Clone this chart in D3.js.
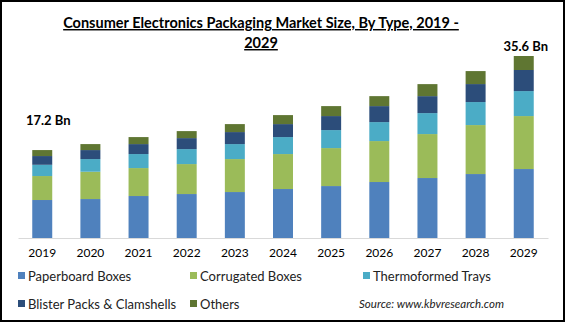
<!DOCTYPE html>
<html>
<head>
<meta charset="utf-8">
<script src="https://cdn.jsdelivr.net/npm/d3@7"></script>
<style>
  body { margin: 0; background: #fff; }
  svg { display: block; font-family: Lato, "Open Sans", sans-serif; }
</style>
</head>
<body>
<svg id="chart"></svg>
<script>
const years = ['2019', '2020', '2021', '2022', '2023', '2024', '2025', '2026', '2027', '2028', '2029'];
const seriesNames = ['Paperboard Boxes', 'Corrugated Boxes', 'Thermoformed Trays', 'Blister Packs & Clamshells', 'Others'];
const paperboard = [7.43, 7.62, 8.21, 8.60, 8.99, 9.58, 10.16, 10.95, 11.73, 12.51, 13.49];
const corrugated = [4.69, 5.34, 5.47, 5.86, 6.45, 6.84, 7.43, 8.01, 8.60, 9.58, 10.36];
const thermoformed = [2.20, 2.48, 2.74, 2.93, 2.93, 3.32, 3.52, 3.71, 4.10, 4.50, 4.89];
const blister = [1.71, 1.76, 1.95, 2.15, 2.35, 2.54, 2.74, 3.13, 3.32, 3.52, 4.12];
const others = [1.17, 1.17, 1.37, 1.37, 1.56, 1.76, 1.95, 1.95, 2.35, 2.54, 2.74];
const colors = ['#4f81bd', '#9bbb59', '#4bacc6', '#2c4d7a', '#5f7632'];
const endLabels = [{ year: '2019', text: '17.2 Bn', value: 17.2 }, { year: '2029', text: '35.6 Bn', value: 35.6 }];

const width = 565, height = 322;
const svg = d3.select('#chart').attr('width', width).attr('height', height);

// frame
svg.append('rect')
    .attr('x', 1).attr('y', 1)
    .attr('width', width - 2).attr('height', height - 2)
    .attr('fill', 'none').attr('stroke', '#000').attr('stroke-width', 2);

const rows = years.map((y, i) => ({
    year: y,
    s0: paperboard[i], s1: corrugated[i], s2: thermoformed[i], s3: blister[i], s4: others[i]
}));
const stack = d3.stack().keys(['s0', 's1', 's2', 's3', 's4'])(rows);

const xscale = d3.scaleBand()
    .domain(years)
    .range([18, 548])
    .paddingInner(0.585)
    .paddingOuter(0.296);

const yscale = d3.scaleLinear()
    .domain([0, 35.6])
    .range([238, 56]);

// bars
svg.append('g').selectAll('g')
    .data(stack)
    .join('g')
    .attr('fill', (d, i) => colors[i])
    .selectAll('rect')
    .data(d => d)
    .join('rect')
    .attr('x', d => xscale(d.data.year))
    .attr('y', d => yscale(d[1]))
    .attr('width', xscale.bandwidth())
    .attr('height', d => yscale(d[0]) - yscale(d[1]));

// x axis
const xaxis = d3.axisBottom(xscale).tickSize(0).tickPadding(10).tickSizeOuter(0);
const xg = svg.append('g')
    .attr('transform', `translate(0, ${yscale(0)})`)
    .call(xaxis);
xg.select('.domain').attr('stroke', '#d9d9d9');
xg.selectAll('text')
    .attr('font-family', 'Lato, sans-serif')
    .attr('font-size', 12)
    .attr('fill', '#000');

// end value labels
svg.append('g').selectAll('text')
    .data(endLabels)
    .join('text')
    .attr('x', d => xscale(d.year) + xscale.bandwidth() / 2 + (d.year === '2019' ? 6 : 2))
    .attr('y', d => yscale(d.value) - (d.year === '2019' ? 25 : 5))
    .attr('text-anchor', 'middle')
    .attr('font-size', 13)
    .attr('font-weight', 'bold')
    .text(d => d.text);

// title
const title = svg.append('text')
    .attr('text-anchor', 'middle')
    .attr('font-size', 14.5)
    .attr('font-weight', 'bold')
    .attr('text-decoration', 'underline');
title.append('tspan').attr('x', 261).attr('y', 28).text('Consumer Electronics Packaging Market Size, By Type, 2019 -');
title.append('tspan').attr('x', 261).attr('y', 48).text('2029');

// legend
const legendPos = [
    { x: 18, y: 276 }, { x: 190, y: 276 }, { x: 363, y: 276 },
    { x: 18, y: 304 }, { x: 190, y: 304 }
];
const legend = svg.append('g').selectAll('g')
    .data(seriesNames)
    .join('g')
    .attr('transform', (d, i) => `translate(${legendPos[i].x}, ${legendPos[i].y})`);
legend.append('rect')
    .attr('x', 0).attr('y', -4)
    .attr('width', 7).attr('height', 7)
    .attr('fill', (d, i) => colors[i]);
legend.append('text')
    .attr('x', 10).attr('y', 0)
    .attr('dy', '0.35em')
    .attr('font-size', 13)
    .attr('fill', '#222')
    .text(d => d);

svg.append('text')
    .attr('x', 504).attr('y', 304)
    .attr('dy', '0.35em')
    .attr('text-anchor', 'end')
    .attr('font-size', 11.5)
    .attr('font-style', 'italic')
    .attr('fill', '#222')
    .text('Source: www.kbvresearch.com');
</script>
</body>
</html>
